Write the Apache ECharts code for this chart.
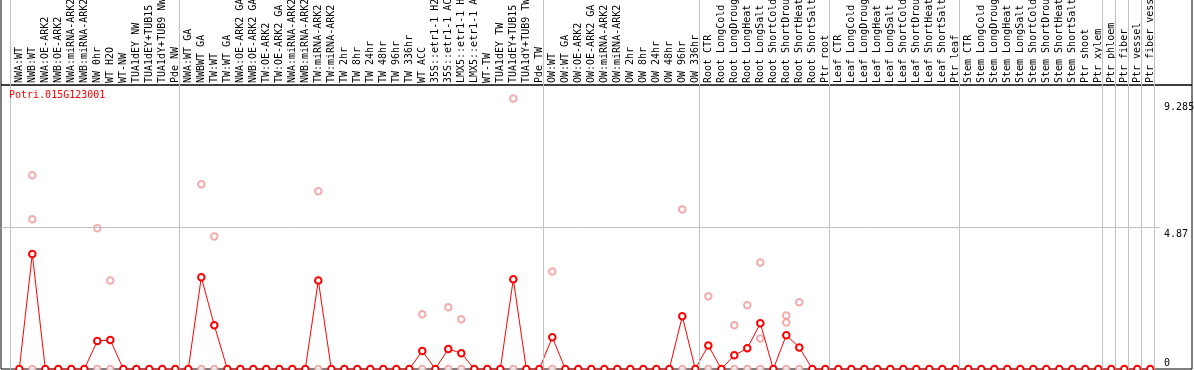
<!DOCTYPE html>
<html><head><meta charset="utf-8">
<script src="https://cdn.jsdelivr.net/npm/echarts@6/dist/echarts.min.js"></script>
<style>html,body{margin:0;padding:0;background:#fff}#c{width:1194px;height:370px}</style>
</head><body><div id="c"></div>
<script>
// ---------- data ----------
const geneName = 'Potri.015G123001';
const categories = [
  'NWA:WT','NWB:WT','NWA:OE-ARK2','NWB:OE-ARK2','NWA:miRNA-ARK2','NWB:miRNA-ARK2','NW 0hr','WT H2O','WT-NW',
  'TUA1dEY NW','TUA1dEY+TUB15','TUA1dY+TUB9 NW','Pde NW',
  'NWA:WT GA','NWBWT GA','TW:WT','TW:WT GA','NWA:OE-ARK2 GA','NWB:OE-ARK2 GA','TW:OE-ARK2','TW:OE-ARK2 GA',
  'NWA:miRNA-ARK2','NWB:miRNA-ARK2','TW:miRNA-ARK2','TW:miRNA-ARK2','TW 2hr','TW 8hr','TW 24hr','TW 48hr','TW 96hr','TW 336hr',
  'WT ACC','35S::etr1-1 H2','35S::etr1-1 AC','LMX5::etr1-1 H','LMX5::etr1-1 A','WT-TW','TUA1dEY TW','TUA1dEY+TUB15','TUA1dY+TUB9 TW','Pde TW',
  'OW:WT','OW:WT GA','OW:OE-ARK2','OW:OE-ARK2 GA','OW:miRNA-ARK2','OW:miRNA-ARK2','OW 2hr','OW 8hr','OW 24hr','OW 48hr','OW 96hr','OW 336hr',
  'Root CTR','Root LongCold','Root LongDroug','Root LongHeat','Root LongSalt','Root ShortCold','Root ShortDrou','Root ShortHeat','Root ShortSalt','Ptr root',
  'Leaf CTR','Leaf LongCold','Leaf LongDroug','Leaf LongHeat','Leaf LongSalt','Leaf ShortCold','Leaf ShortDrou','Leaf ShortHeat','Leaf ShortSalt','Ptr leaf',
  'Stem CTR','Stem LongCold','Stem LongDroug','Stem LongHeat','Stem LongSalt','Stem ShortCold','Stem ShortDrou','Stem ShortHeat','Stem ShortSalt','Ptr shoot',
  'Ptr xylem','Ptr phloem','Ptr fiber','Ptr vessel','Ptr fiber vess'
];
// mean expression per sample (red line)
const meanValues = [
  0, 3.95, 0, 0, 0, 0, 0.96, 0.995, 0, 0, 0, 0, 0,
  0, 3.15, 1.50, 0, 0, 0, 0, 0,
  0, 0, 3.04, 0, 0, 0, 0, 0, 0, 0,
  0.62, 0, 0.69, 0.54, 0, 0, 0, 3.08, 0, 0,
  1.09, 0, 0, 0, 0, 0, 0, 0, 0, 0, 1.81, 0,
  0.81, 0, 0.47, 0.71, 1.57, 0, 1.16, 0.74, 0, 0,
  0, 0, 0, 0, 0, 0, 0, 0, 0, 0,
  0, 0, 0, 0, 0, 0, 0, 0, 0, 0,
  0, 0, 0, 0, 0
];
// individual replicate values per sample (pink circles)
const replicateValues = [
  [], [6.65, 5.14, 0], [], [], [], [], [4.83, 0], [3.04, 0], [], [], [], [], [],
  [], [6.34, 0], [4.55, 0], [], [], [], [], [],
  [], [], [6.10, 0], [], [], [], [], [], [], [],
  [1.88, 0], [], [2.12, 0], [1.71, 0], [], [], [], [9.285, 0], [], [],
  [3.35, 0], [], [], [], [], [], [], [], [], [], [5.48, 0], [],
  [2.50, 0], [], [1.50, 0], [2.19, 0], [3.66, 1.05, 0], [], [1.84, 1.60, 0], [2.29, 0], [], [],
  [], [], [], [], [], [], [], [], [], [],
  [], [], [], [], [], [], [], [], [], [],
  [], [], [], [], []
];
const yTickValues = [0, 4.87, 9.285];
const yTickLabels = ['0', '4.87', '9.285'];
const yGridValues = [4.87];
// index of first sample of each group (group separators)
const groupStarts = [0, 13, 41, 53, 63, 73, 84, 85, 86, 87, 88];

// ---------- layout ----------
const X_MIN = -1.4077, X_MAX = 90.208, Y_MAX = 9.75;
const SEP_SHIFT = -0.66;
const LABEL_END_X = 87.75;
const yLabelOffsets = [[0, -6], [0, 7], [0, 9]];
const MONO = 'DejaVu Sans Mono';
const GRAY = '#c0c0c0';

const meanData = meanValues.map((v, i) => [i, v]);
const repData = [];
replicateValues.forEach((arr, i) => arr.forEach(v => repData.push([i, v])));
const sepLines = groupStarts.map(b => ({ xAxis: b + SEP_SHIFT }));

const yLabelLines = yTickValues.map((v, i) => [
  { coord: [X_MIN, v],
    lineStyle: { color: yGridValues.includes(v) ? GRAY : 'rgba(0,0,0,0)', width: 1, type: 'solid' },
    label: { show: true, position: 'end', distance: 4, formatter: yTickLabels[i], offset: yLabelOffsets[i],
             color: '#000', fontFamily: MONO, fontSize: 10 } },
  { coord: [LABEL_END_X, v] }
]);

const chart = echarts.init(document.getElementById('c'), null, { renderer: 'canvas' });
chart.setOption({
  animation: false,
  backgroundColor: '#fff',
  title: {
    text: geneName, left: 9, top: 90, padding: 0,
    textStyle: { color: '#ff0000', fontFamily: MONO, fontSize: 10, fontWeight: 'normal' }
  },
  grid: [
    { left: 1, width: 1191, top: 85, height: 284, show: true, borderColor: '#000', borderWidth: 1,
      backgroundColor: 'transparent', containLabel: false, outerBoundsMode: 'none' },
    { left: 1, width: 1191, top: -20, height: 105, show: true, borderColor: '#000', borderWidth: 1,
      backgroundColor: 'transparent', containLabel: false, outerBoundsMode: 'none' }
  ],
  xAxis: [
    { gridIndex: 0, type: 'value', position: 'top', min: X_MIN, max: X_MAX,
      axisLine: { show: false }, axisTick: { show: false }, splitLine: { show: false },
      axisLabel: { customValues: categories.map((_, i) => i), formatter: v => categories[v] || '',
                   rotate: 90, margin: 2, color: '#000', fontFamily: MONO, fontSize: 10 } },
    { gridIndex: 1, type: 'value', min: X_MIN, max: X_MAX, show: false }
  ],
  yAxis: [
    { gridIndex: 0, type: 'value', min: 0, max: Y_MAX, show: false, splitLine: { show: false } },
    { gridIndex: 1, type: 'value', min: 0, max: 1, show: false, splitLine: { show: false } }
  ],
  series: [
    { type: 'line', xAxisIndex: 0, yAxisIndex: 0, data: [], silent: true, z: 1,
      markLine: { silent: true, symbol: 'none', animation: false,
        lineStyle: { color: GRAY, width: 1, type: 'solid' }, label: { show: false },
        data: sepLines } },
    { type: 'line', xAxisIndex: 0, yAxisIndex: 0, data: [], silent: true, z: 1,
      markLine: { silent: true, symbol: 'none', animation: false,
        lineStyle: { color: GRAY, width: 1, type: 'solid' },
        data: yLabelLines } },
    { type: 'line', xAxisIndex: 1, yAxisIndex: 1, data: [], silent: true, z: 1,
      markLine: { silent: true, symbol: 'none', animation: false,
        lineStyle: { color: GRAY, width: 1, type: 'solid' }, label: { show: false },
        data: sepLines } },
    { type: 'scatter', xAxisIndex: 0, yAxisIndex: 0, data: repData, z: 2,
      symbol: 'emptyCircle', symbolSize: 6.5,
      itemStyle: { color: '#f09696', borderColor: '#f09696', borderWidth: 1.3 } },
    { type: 'line', xAxisIndex: 0, yAxisIndex: 0, data: meanData, z: 3,
      symbol: 'emptyCircle', symbolSize: 6.5, showAllSymbol: true,
      lineStyle: { color: '#ff0000', width: 1 },
      itemStyle: { color: '#ff0000', borderColor: '#ff0000', borderWidth: 1.7 } }
  ]
});
</script>
</body></html>
